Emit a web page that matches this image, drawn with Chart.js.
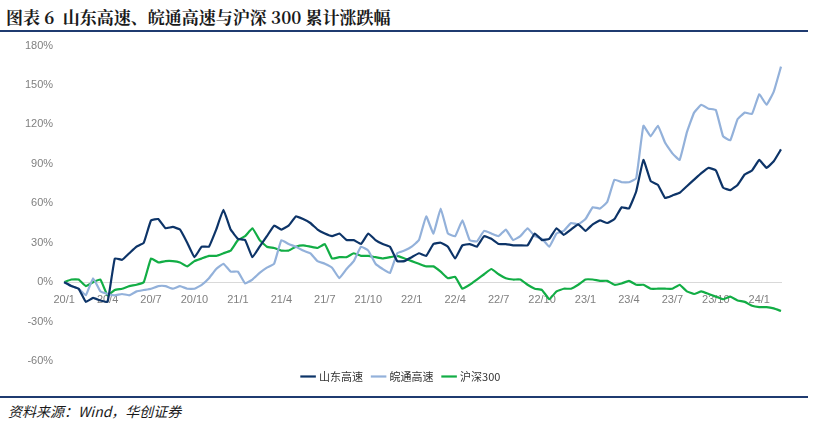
<!DOCTYPE html>
<html><head><meta charset="utf-8">
<script src="https://cdn.jsdelivr.net/npm/chart.js@4"></script>
<style>
body{margin:0;width:814px;height:426px;background:#fff;position:relative;overflow:hidden;font-family:"Noto Sans CJK SC",sans-serif}
#t{position:absolute;left:6px;top:4px;font-size:17px;font-weight:bold;color:#1a1a1a;font-family:"Noto Serif CJK SC","Noto Sans CJK SC",serif}
#l1{position:absolute;left:0;top:30px;width:808px;height:2px;background:#1f3b70}
#l2{position:absolute;left:0;top:396px;width:808px;height:2px;background:#1f3b70}
#s{position:absolute;left:8px;top:401px;font-size:14px;font-style:italic;color:#1a1a1a}
#c{position:absolute;left:0;top:36px;width:800px;height:356px}
</style></head><body>
<div id="t">图表 6&nbsp; 山东高速、皖通高速与沪深 300 累计涨跌幅</div>
<div id="l1"></div><div id="l2"></div>
<div id="s">资料来源：Wind，华创证券</div>
<div id="c"><canvas id="cv"></canvas></div>
<script>
const years=[20,21,22,23,24];
const labels=[];
years.forEach(y=>{const n=y===24?2:12;for(let m=1;m<=n;m++){labels.push(y+'/'+m);labels.push('');}});
const shandong=[0,-3,-5,-15,-12,-14,-15,18,17,22,27,30,47,48,41,42,40,30,19,27,27,40,55,40,
33,32,19,27,35,43,40,43,50,48,45,40,37,35,37,32,32,29,37,32,29,27,16,16,
19,22,20,29,30,27,18,28,29,27,35,33,29,29,28,28,28,37,32,33,41,36,40,44,
39,44,47,45,48,57,56,69,93,77,74,64,66,68,73,78,83,87,85,72,70,74,82,85,
93,87,92,101];
const wantong=[0,-3,-5,-10,3,-7,-9,-10,-9,-10,-7,-6,-5,-3,-3,-5,-3,-5,-5,-2,3,10,14,8,
8,-1,2,7,11,14,32,29,27,24,22,16,14,11,3,10,16,27,24,14,10,7,22,24,
27,32,50,37,56,37,35,47,32,31,39,37,35,40,32,35,41,35,33,27,37,39,45,44,
48,57,56,61,78,76,76,79,119,111,119,106,98,93,114,129,135,132,131,111,108,124,129,128,
143,135,145,164];
const hs300=[0,2,2,-3,0,2,-10,-6,-5,-3,-2,0,18,15,16,16,15,12,16,18,20,20,22,24,
32,35,41,32,27,26,24,24,27,28,27,26,29,18,19,19,22,20,20,19,18,19,20,18,
16,14,12,12,8,3,4,-5,-2,2,6,10,6,3,2,2,-2,-5,-6,-13,-7,-5,-5,-2,
2,2,1,1,-2,-1,1,-2,-2,-5,-5,-5,-5,-2,-7,-9,-7,-9,-11,-13,-11,-14,-15,-18,
-19,-19,-20,-22];
const ds=(l,d,c)=>({label:l,data:d,borderColor:c,backgroundColor:c,borderWidth:2.2,pointRadius:0,tension:0.1});
new Chart(document.getElementById('cv'),{type:'line',
data:{labels,datasets:[ds('山东高速',shandong,'#0d3468'),ds('皖通高速',wantong,'#93b1da'),ds('沪深300',hs300,'#12ad45')]},
options:{responsive:true,maintainAspectRatio:false,animation:false,
layout:{padding:{top:2,right:19,left:22}},
plugins:{legend:{position:'bottom',labels:{usePointStyle:true,pointStyle:'line',boxWidth:22,padding:10,color:'#333',font:{size:11,family:'"Noto Sans CJK SC"'}}},tooltip:{enabled:false}},
scales:{
x:{position:{y:0},grid:{display:false},border:{color:'#d9d9d9'},
ticks:{autoSkip:false,maxRotation:0,color:'#808080',font:{size:11},
callback:(v,i)=>{const s=labels[i];if(!s)return null;const m=+s.split('/')[1];return (m-1)%3===0?s:null;}}},
y:{min:-60,max:180,afterFit:a=>{},ticks:{stepSize:30,color:'#808080',font:{size:11},callback:v=>v+'%'},grid:{display:false},border:{display:false}}
}}},[{id:'gap',beforeInit(c){const f=c.legend.fit;c.legend.fit=function(){f.call(this);this.height+=9;};}}]);
</script></body></html>
